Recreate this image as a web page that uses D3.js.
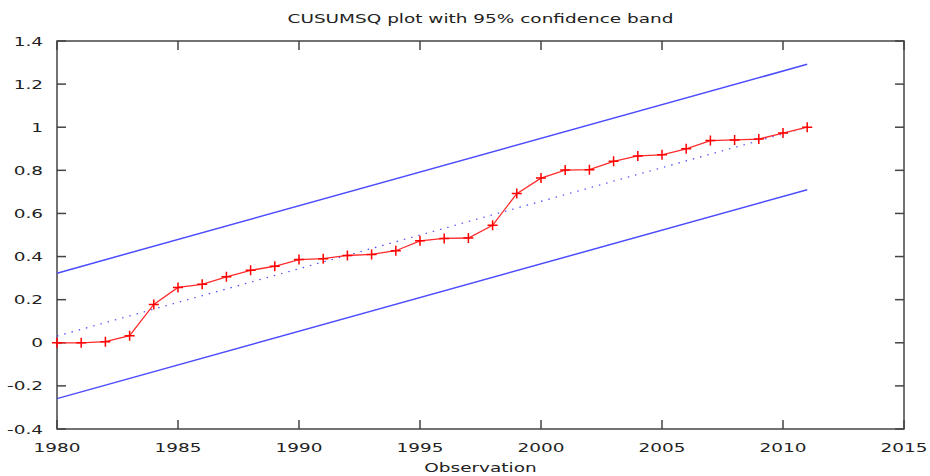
<!DOCTYPE html>
<html>
<head>
<meta charset="utf-8">
<script src="https://cdn.jsdelivr.net/npm/d3@7"></script>
<style>
  body { margin: 0; background: #fff; }
  svg text { font-family: "DejaVu Sans", sans-serif; font-size: 13px; fill: #222; }
</style>
</head>
<body>
<div id="viz"></div>
<script>
var years = [1980,1981,1982,1983,1984,1985,1986,1987,1988,1989,1990,1991,1992,1993,1994,1995,
             1996,1997,1998,1999,2000,2001,2002,2003,2004,2005,2006,2007,2008,2009,2010,2011];
var cusumsq = [0,0,0.005,0.033,0.178,0.257,0.271,0.306,0.336,0.355,0.386,0.39,0.405,0.41,0.427,0.473,
               0.484,0.486,0.545,0.692,0.764,0.801,0.803,0.842,0.867,0.872,0.9,0.938,0.941,0.945,0.973,1.0];

// straight lines: expected path and the 95% band, given by their end points
var lineYears = [1980, 2011];
var expected = [0.031, 1.0];
var upperBand = [0.323, 1.292];
var lowerBand = [-0.259, 0.71];

var xTicks = [1980,1985,1990,1995,2000,2005,2010,2015];
var yTicks = [-0.4,-0.2,0,0.2,0.4,0.6,0.8,1,1.2,1.4];

var width = 930, height = 476,
    margin = { top: 41, right: 26, bottom: 47, left: 57 },
    stretch = 1.42; // text in the reference is wider than tall

var svg = d3.select('#viz').append('svg')
  .attr('width', width)
  .attr('height', height);

var xScale = d3.scaleLinear()
  .domain([1980, 2015])
  .range([margin.left, width - margin.right]);

var yScale = d3.scaleLinear()
  .domain([-0.4, 1.4])
  .range([height - margin.bottom, margin.top]);

function label(txt, x, y, anchor) {
  svg.append('g')
    .attr('transform', 'translate(' + x + ',' + y + ') scale(' + stretch + ',1)')
    .append('text')
    .attr('text-anchor', anchor)
    .attr('dy', '0.35em')
    .text(txt);
}

// frame + ticks (mirrored on all sides, pointing inward)
var x0 = xScale.range()[0], x1 = xScale.range()[1],
    y0 = yScale.range()[1], y1 = yScale.range()[0],
    tick = 9;

var frame = svg.append('g').attr('stroke', '#444').attr('stroke-width', 1.5).attr('fill', 'none');
frame.append('rect').attr('x', x0).attr('y', y0).attr('width', x1 - x0).attr('height', y1 - y0);

xTicks.forEach(function(t) {
  var x = xScale(t);
  frame.append('line').attr('x1', x).attr('x2', x).attr('y1', y1).attr('y2', y1 - tick);
  frame.append('line').attr('x1', x).attr('x2', x).attr('y1', y0).attr('y2', y0 + tick);
  label(String(t), x, y1 + 18, 'middle');
});

// plain hyphen for negatives, as in the reference
var fmt = function(v) { return d3.format('~g')(v).replace('\u2212', '-'); };

yTicks.forEach(function(t) {
  var y = yScale(t);
  frame.append('line').attr('x1', x0).attr('x2', x0 + tick).attr('y1', y).attr('y2', y);
  frame.append('line').attr('x1', x1).attr('x2', x1 - tick).attr('y1', y).attr('y2', y);
  label(fmt(t), x0 - 14, y, 'end');
});

label('CUSUMSQ plot with 95% confidence band', (x0 + x1) / 2, 18, 'middle');
label('Observation', (x0 + x1) / 2, 467, 'middle');

var line = d3.line()
  .x(function(d) { return xScale(d[0]); })
  .y(function(d) { return yScale(d[1]); });

var bandColor = '#4c4cff';

[upperBand, lowerBand].forEach(function(b) {
  svg.append('path')
    .attr('d', line(d3.zip(lineYears, b)))
    .attr('fill', 'none')
    .attr('stroke', bandColor)
    .attr('stroke-width', 1.5);
});

svg.append('path')
  .attr('d', line(d3.zip(lineYears, expected)))
  .attr('fill', 'none')
  .attr('stroke', bandColor)
  .attr('stroke-width', 1.2)
  .attr('stroke-dasharray', '1.5,6');

var pts = d3.zip(years, cusumsq);

svg.append('path')
  .attr('d', line(pts))
  .attr('fill', 'none')
  .attr('stroke', '#ff2a2a')
  .attr('stroke-width', 1.3);

var cross = 5;
svg.append('g').selectAll('path').data(pts)
  .enter().append('path')
  .attr('d', function(d) {
    var x = xScale(d[0]), y = yScale(d[1]);
    return 'M' + (x - cross) + ',' + y + 'H' + (x + cross) + 'M' + x + ',' + (y - cross) + 'V' + (y + cross);
  })
  .attr('stroke', '#ff0000')
  .attr('stroke-width', 1.5);
</script>
</body>
</html>
